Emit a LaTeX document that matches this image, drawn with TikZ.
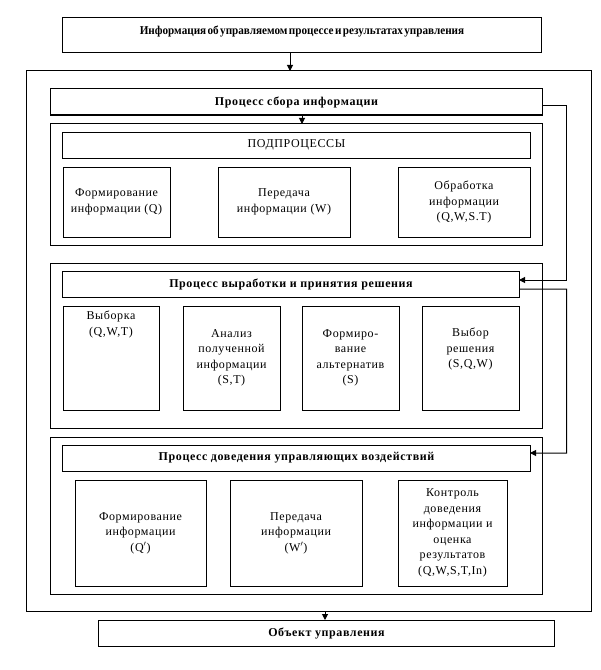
\documentclass[tikz,border=0pt]{standalone}
\usepackage{fontspec}
\setmainfont{Liberation Serif}[LetterSpace=5]
\newfontfamily\titlefont{Liberation Serif}
\usetikzlibrary{arrows.meta}
\tikzset{
  box/.style={draw, line width=1bp, inner sep=0pt, outer sep=0pt, align=center,
    font=\fontsize{12bp}{15.5bp}\selectfont},
  hbox/.style={box, font=\fontsize{12bp}{15.5bp}\selectfont\bfseries},
  txt/.style={inner sep=0pt, align=center, font=\fontsize{12bp}{15.5bp}\selectfont},
  arr/.style={line width=1bp, -{Triangle[width=6bp,length=6bp]}}
}
\begin{document}
\begin{tikzpicture}[x=1bp,y=-1bp]
\useasboundingbox (0,0) rectangle (601,670);
% top box
\node[box, minimum width=478bp, minimum height=35bp] (top) at (302,35.5) {};
\node[txt, font=\titlefont\fontsize{12bp}{14bp}\selectfont\bfseries] (toptxt) at (302,32)
  {\scalebox{0.93}[1]{\spaceskip=1.5bp Информация об управляемом процессе и результатах управления}};
% outer
\node[box, minimum width=564bp, minimum height=540bp] (outer) at (309,341) {};
% collection
\node[hbox, minimum width=491bp, minimum height=26bp] (collect) at (296.5,102) {Процесс сбора информации};
\node[box, minimum width=491bp, minimum height=121bp] (subgrp) at (296.5,184.5) {};
\node[box, minimum width=467bp, minimum height=26bp] (podpr) at (296.5,145) {ПОДПРОЦЕССЫ};
\node[box, minimum width=107bp, minimum height=70bp] (sub1) at (116.5,202) {Формирование\\информации (Q)};
\node[box, minimum width=132bp, minimum height=70bp] (sub2) at (284,202) {Передача\\информации (W)};
\node[box, minimum width=132bp, minimum height=70bp] (sub3) at (464,202) {Обработка\\информации\\(Q,W,S.T)};
% decision
\node[box, minimum width=491bp, minimum height=165bp] (decgrp) at (296.5,345.5) {};
\node[hbox, minimum width=456bp, minimum height=26bp] (dechead) at (291,284) {Процесс выработки и принятия решения};
\node[box, minimum width=96bp, minimum height=104bp] (dec1) at (111,358) {};
\node[txt, anchor=north] (dec1t) at (111,311) {Выборка\\(Q,W,T)};
\node[box, minimum width=97bp, minimum height=104bp] (dec2) at (231.5,358) {Анализ\\полученной\\информации\\(S,T)};
\node[box, minimum width=97bp, minimum height=104bp] (dec3) at (350.5,358) {Формиро-\\вание\\альтернатив\\(S)};
\node[box, minimum width=97bp, minimum height=104bp] (dec4) at (470.5,358) {};
\node[txt] (dec4t) at (470.5,349) {Выбор\\решения\\(S,Q,W)};
% execution
\node[box, minimum width=491bp, minimum height=157bp] (exgrp) at (296.5,515.5) {};
\node[hbox, minimum width=467bp, minimum height=26bp] (exhead) at (296.5,458) {Процесс доведения управляющих воздействий};
\node[box, minimum width=131bp, minimum height=106bp] (ex1) at (140.5,533) {Формирование\\информации\\(Q$'$)};
\node[box, minimum width=132bp, minimum height=106bp] (ex2) at (296,533) {Передача\\информации\\(W$'$)};
\node[box, minimum width=109bp, minimum height=106bp] (ex3) at (452.5,533) {Контроль\\доведения\\информации и\\оценка\\результатов\\(Q,W,S,T,In)};
% object
\node[hbox, minimum width=455bp, minimum height=26bp] (obj) at (326.5,633) {Объект управления};
% connectors
\coordinate (c1) at (290,0);
\coordinate (c2) at (302,0);
\coordinate (c3) at (325,0);
\coordinate (r1) at (566.5,280);
\coordinate (r2) at (566.5,289);
\coordinate (r3) at (566.5,453);
\draw[arr] (c1 |- top.south) -- (c1 |- outer.north);
\draw[arr] (c2 |- collect.south) -- (c2 |- subgrp.north);
\draw[arr] (c3 |- outer.south) -- (c3 |- obj.north);
\draw[arr] ([yshift=-4bp]collect.east) -| (r1) -- (r1 -| dechead.east);
\draw[arr] ([yshift=-5bp]dechead.east) -- (r2) -- (r3) -- (r3 -| exhead.east);
\end{tikzpicture}
\end{document}
